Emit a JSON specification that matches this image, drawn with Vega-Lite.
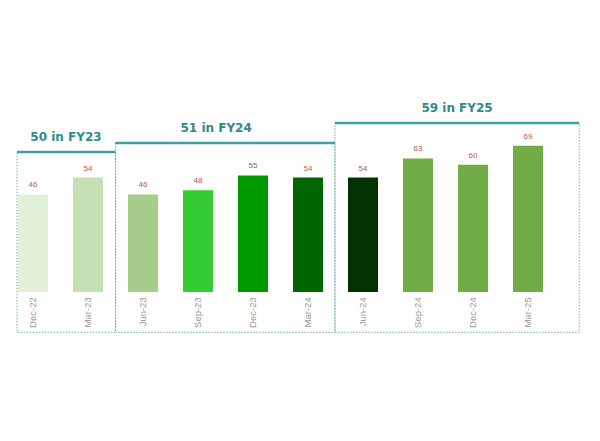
{
  "$schema": "https://vega.github.io/schema/vega-lite/v6.json",
  "width": 600,
  "height": 441,
  "autosize": "none",
  "padding": 0,
  "background": "white",
  "config": {"view": {"stroke": null}, "scale": {"continuousPadding": 0}},
  "datasets": {
    "quarters": [
      {"period": "Dec-22", "idx": 0, "value": 46},
      {"period": "Mar-23", "idx": 1, "value": 54},
      {"period": "Jun-23", "idx": 2, "value": 46},
      {"period": "Sep-23", "idx": 3, "value": 48},
      {"period": "Dec-23", "idx": 4, "value": 55},
      {"period": "Mar-24", "idx": 5, "value": 54},
      {"period": "Jun-24", "idx": 6, "value": 54},
      {"period": "Sep-24", "idx": 7, "value": 63},
      {"period": "Dec-24", "idx": 8, "value": 60},
      {"period": "Mar-25", "idx": 9, "value": 69}
    ],
    "groups": [
      {"label": "50 in FY23", "start": -0.29, "end": 1.5, "top": 66, "titleAt": 0.6},
      {"label": "51 in FY24", "start": 1.5, "end": 5.49, "top": 70.3, "titleAt": 3.33},
      {"label": "59 in FY25", "start": 5.49, "end": 9.93, "top": 79.7, "titleAt": 7.71}
    ]
  },
  "layer": [
    {
      "data": {"name": "groups"},
      "mark": {"type": "rect", "fill": null, "fillOpacity": 0, "stroke": "#6fabb0", "strokeWidth": 1, "strokeDash": [1.5, 1.5]},
      "encoding": {
        "x": {"field": "start", "type": "quantitative", "scale": {"domain": [-0.6, 10.309], "nice": false, "zero": false, "padding": 0}, "axis": null},
        "x2": {"field": "end"},
        "y": {"field": "top", "type": "quantitative", "scale": {"domain": [-70.28, 137.74], "nice": false, "zero": false, "padding": 0}, "axis": null},
        "y2": {"datum": -19}
      }
    },
    {
      "data": {"name": "groups"},
      "mark": {"type": "rule", "stroke": "#3d9fa3", "strokeWidth": 2.5},
      "encoding": {
        "x": {"field": "start", "type": "quantitative", "scale": {"domain": [-0.6, 10.309], "nice": false, "zero": false, "padding": 0}, "axis": null},
        "x2": {"field": "end"},
        "y": {"field": "top", "type": "quantitative", "scale": {"domain": [-70.28, 137.74], "nice": false, "zero": false, "padding": 0}, "axis": null}
      }
    },
    {
      "data": {"name": "groups"},
      "mark": {"type": "text", "font": "DejaVu Sans", "fontWeight": "bold", "fontSize": 12, "color": "#2f8a8c", "baseline": "middle", "align": "center", "dy": -15},
      "encoding": {
        "x": {"field": "titleAt", "type": "quantitative", "scale": {"domain": [-0.6, 10.309], "nice": false, "zero": false, "padding": 0}, "axis": null},
        "y": {"field": "top", "type": "quantitative", "scale": {"domain": [-70.28, 137.74], "nice": false, "zero": false, "padding": 0}, "axis": null},
        "text": {"field": "label"}
      }
    },
    {
      "data": {"name": "quarters"},
      "mark": {"type": "bar", "width": 30},
      "encoding": {
        "x": {"field": "idx", "type": "quantitative", "scale": {"domain": [-0.6, 10.309], "nice": false, "zero": false, "padding": 0}, "axis": null},
        "y": {"field": "value", "type": "quantitative", "scale": {"domain": [-70.28, 137.74], "nice": false, "zero": false, "padding": 0}, "axis": null},
        "y2": {"datum": 0},
        "color": {
          "field": "period",
          "type": "nominal",
          "legend": null,
          "scale": {
            "domain": ["Dec-22", "Mar-23", "Jun-23", "Sep-23", "Dec-23", "Mar-24", "Jun-24", "Sep-24", "Dec-24", "Mar-25"],
            "range": ["#e2efd9", "#c5e0b4", "#a6ce8a", "#33cc33", "#009900", "#006600", "#013301", "#70ad47", "#70ad47", "#70ad47"]
          }
        }
      }
    },
    {
      "data": {"name": "quarters"},
      "mark": {"type": "text", "font": "Liberation Sans", "fontSize": 8, "color": "#b5575a", "baseline": "bottom", "dy": -5},
      "encoding": {
        "x": {"field": "idx", "type": "quantitative", "scale": {"domain": [-0.6, 10.309], "nice": false, "zero": false, "padding": 0}, "axis": null},
        "y": {"field": "value", "type": "quantitative", "scale": {"domain": [-70.28, 137.74], "nice": false, "zero": false, "padding": 0}, "axis": null},
        "text": {"field": "value"}
      }
    },
    {
      "data": {"name": "quarters"},
      "mark": {"type": "text", "font": "Liberation Sans", "fontSize": 9.5, "color": "#9a9a9a", "angle": 270, "align": "right", "baseline": "middle"},
      "encoding": {
        "x": {"field": "idx", "type": "quantitative", "scale": {"domain": [-0.6, 10.309], "nice": false, "zero": false, "padding": 0}, "axis": null},
        "y": {"datum": -2.5, "type": "quantitative", "scale": {"domain": [-70.28, 137.74], "nice": false, "zero": false, "padding": 0}, "axis": null},
        "text": {"field": "period"}
      }
    }
  ]
}
